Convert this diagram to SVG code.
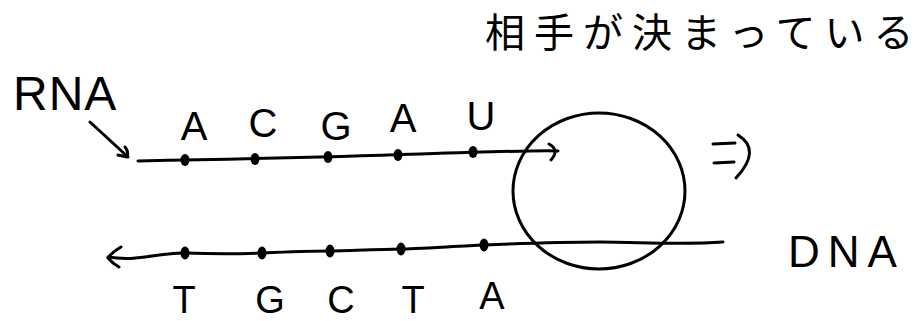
<svg xmlns="http://www.w3.org/2000/svg" width="921" height="321" viewBox="0 0 921 321">
<style>
.ln{fill:none;stroke:#000;stroke-width:3;stroke-linecap:round;stroke-linejoin:round}
.dot{fill:#000}
.lt{font-family:"Liberation Sans",Arial,sans-serif;font-size:40px;fill:#000;text-anchor:middle}
.lb{font-family:"Liberation Sans",Arial,sans-serif;font-size:38px;fill:#000;text-anchor:middle}
.lbl{font-family:"Liberation Sans",Arial,sans-serif;fill:#000}
.jp{font-family:"Noto Sans CJK JP","Noto Sans",sans-serif;font-size:40px;fill:#000}
</style>
<rect width="921" height="321" fill="#fff"/>
<g id="note"><text class="jp" x="485" y="47" letter-spacing="9">相手が決まっている</text></g>
<g id="rna-label"><text class="lbl" x="13" y="110" font-size="48" letter-spacing="1">RNA</text></g>
<g id="dna-label"><text class="lbl" x="788" y="267" font-size="44" letter-spacing="8">DNA</text></g>
<g id="rna-strand">
<path class="ln" d="M138,161 Q300,158 420,154 T558,151"/>
<path class="ln" d="M549,144 Q560,150 551,160"/>
<ellipse class="dot" cx="185" cy="160" rx="4.5" ry="6"/>
<ellipse class="dot" cx="255" cy="159" rx="4.5" ry="6"/>
<ellipse class="dot" cx="328" cy="157" rx="4.5" ry="6"/>
<ellipse class="dot" cx="398" cy="155" rx="4.5" ry="6"/>
<ellipse class="dot" cx="473" cy="152" rx="4.5" ry="6"/>
<text class="lt" x="194" y="140">A</text>
<text class="lt" x="263" y="137">C</text>
<text class="lt" x="336" y="140">G</text>
<text class="lt" x="403" y="132">A</text>
<text class="lt" x="481" y="130">U</text>
</g>
<g id="dna-strand">
<path class="ln" d="M108,257 C140,262 160,252 185,253 S240,254 262,253 S320,251 330,251 S390,249 401,249 S460,246 484,245 S560,242 600,242 S680,245 723,242"/>
<path class="ln" d="M121,247 Q111,253 108,258 Q112,263 119,267"/>
<ellipse class="dot" cx="185" cy="253" rx="4.5" ry="6.5"/>
<ellipse class="dot" cx="262" cy="253" rx="4.5" ry="6.5"/>
<ellipse class="dot" cx="330" cy="251" rx="4.5" ry="6.5"/>
<ellipse class="dot" cx="401" cy="249" rx="4.5" ry="6.5"/>
<ellipse class="dot" cx="484" cy="245" rx="4.5" ry="6.5"/>
<text class="lb" x="184" y="313">T</text>
<text class="lb" x="270" y="313">G</text>
<text class="lb" x="341" y="313">C</text>
<text class="lb" x="413" y="313">T</text>
<text class="lb" x="492" y="309">A</text>
</g>
<g id="circle"><ellipse class="ln" cx="599" cy="191" rx="86" ry="78"/></g>
<g id="connectors">
<path class="ln" d="M90,122 L128,157"/>
<path class="ln" d="M125,147 Q129,152 127,157 L118,155"/>
<path class="ln" d="M713,144 L735,143 M714,163 L734,162 M738,135 Q762,150 736,178"/>
</g>
</svg>
